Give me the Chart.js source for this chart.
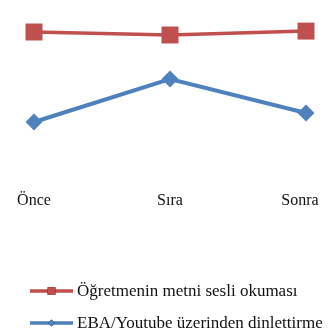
<!DOCTYPE html>
<html>
<head>
<meta charset="utf-8">
<script src="https://cdn.jsdelivr.net/npm/chart.js@4"></script>
<style>
  html, body { margin: 0; padding: 0; background: #fff; }
  #wrap { width: 334px; height: 332px; }
</style>
</head>
<body>
<div id="wrap"><canvas id="c" width="334" height="332"></canvas></div>
<script>
// Stages on the x axis
const stages = ['Önce', 'Sıra', 'Sonra'];

// Series names
const seriesNames = ['Öğretmenin metni sesli okuması', 'EBA/Youtube üzerinden dinlettirme'];

// Mean scores per stage
const teacherReading = [4.5, 4.4, 4.53];
const ebaYoutube = [1.5, 2.93, 1.8];

const RED = '#C0504D';
const BLUE = '#4F81BD';
const FONT = '"Liberation Serif", "Times New Roman", serif';

// Keep the last category label inside the plot's right edge
const lastLabelInside = {
  id: 'lastLabelInside',
  beforeDraw(chart) {
    const items = chart.scales.x.getLabelItems();
    const last = items[items.length - 1];
    if (last && !last._shifted) {
      last.options.translation[0] -= 6;
      last._shifted = true;
    }
  }
};

// Legend drawn as a vertical list: line sample with its marker, then the label
const lineLegend = {
  id: 'lineLegend',
  afterDraw(chart) {
    const ctx = chart.ctx;
    const x0 = 30, x1 = 73, rows = [291, 323];
    ctx.save();
    chart.data.datasets.forEach((ds, i) => {
      const y = rows[i];
      ctx.strokeStyle = ds.borderColor;
      ctx.lineWidth = 3.5;
      ctx.beginPath();
      ctx.moveTo(x0, y);
      ctx.lineTo(x1, y);
      ctx.stroke();
      Chart.helpers.drawPoint(ctx, {
        pointStyle: ds.pointStyle,
        radius: ds.pointStyle === 'rect' ? 5.5 : 3.5,
        borderWidth: 0
      }, (x0 + x1) / 2, y);
      ctx.fillStyle = ds.backgroundColor;
      ctx.fill();
      ctx.fillStyle = '#111';
      ctx.font = '17px ' + FONT;
      ctx.textBaseline = 'middle';
      ctx.textAlign = 'left';
      ctx.fillText(ds.label, x1 + 4, y + 1);
    });
    ctx.restore();
  }
};

new Chart(document.getElementById('c'), {
  type: 'line',
  data: {
    labels: stages,
    datasets: [
      {
        label: seriesNames[0],
        data: teacherReading,
        borderColor: RED,
        backgroundColor: RED,
        borderWidth: 3.5,
        pointStyle: 'rect',
        pointRadius: 12,
        pointHoverRadius: 12,
        pointBorderWidth: 0,
        tension: 0
      },
      {
        label: seriesNames[1],
        data: ebaYoutube,
        borderColor: BLUE,
        backgroundColor: BLUE,
        borderWidth: 4,
        pointStyle: 'rectRot',
        pointRadius: 8.5,
        pointHoverRadius: 8.5,
        pointBorderWidth: 0,
        tension: 0
      }
    ]
  },
  options: {
    responsive: false,
    animation: false,
    layout: { autoPadding: false, padding: { top: 2, left: 34, right: 28, bottom: 124 } },
    plugins: {
      legend: { display: false },
      tooltip: { enabled: false }
    },
    scales: {
      x: {
        offset: false,
        grid: { display: false, drawTicks: false },
        border: { display: false },
        ticks: {
          padding: 24,
          color: '#111',
          font: { family: FONT, size: 16 },
          maxRotation: 0,
          autoSkip: false
        },
        afterFit(scale) {
          scale.paddingLeft = 0;
          scale.paddingRight = 0;
          scale.height = 41;
        }
      },
      y: {
        display: false,
        min: 0,
        max: 5.5
      }
    }
  },
  plugins: [lastLabelInside, lineLegend]
});
</script>
</body>
</html>
